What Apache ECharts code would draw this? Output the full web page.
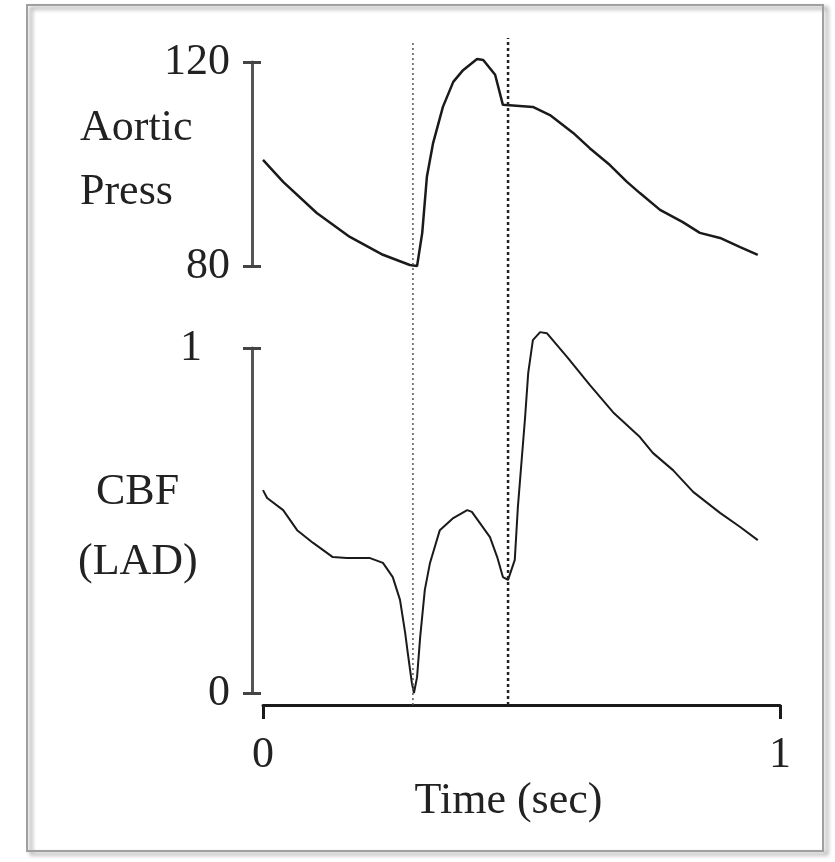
<!DOCTYPE html>
<html>
<head>
<meta charset="utf-8">
<script src="https://cdn.jsdelivr.net/npm/echarts@6/dist/echarts.min.js"></script>
<style>
  html, body { margin: 0; padding: 0; background: #fff; }
  #chart { width: 835px; height: 862px; }
</style>
</head>
<body>
<div id="chart"></div>
<script>
// time (sec) and aortic pressure
const timeAortic = [0, 0.039, 0.104, 0.168, 0.232, 0.284, 0.298, 0.308, 0.317, 0.329, 0.348, 0.368, 0.387, 0.414, 0.426, 0.449, 0.464, 0.522, 0.555, 0.600, 0.632, 0.671, 0.704, 0.729, 0.768, 0.812, 0.845, 0.884, 0.923, 0.957]
const aorticPress = [100.8, 96.5, 90.4, 85.7, 82.2, 80.2, 80, 86.5, 97.5, 104.1, 111.2, 116.1, 118.4, 120.6, 120.4, 117.5, 111.6, 111.2, 109.6, 106.1, 103.1, 99.8, 96.5, 94.3, 91.0, 88.6, 86.5, 85.5, 83.7, 82.2]

// time (sec) and coronary blood flow (LAD), bottom trace
const timeCBF = [0, 0.008, 0.039, 0.066, 0.097, 0.135, 0.162, 0.207, 0.232, 0.251, 0.265, 0.275, 0.280, 0.288, 0.292, 0.298, 0.304, 0.313, 0.323, 0.342, 0.368, 0.395, 0.404, 0.439, 0.453, 0.464, 0.474, 0.487, 0.493, 0.507, 0.513, 0.522, 0.536, 0.549, 0.588, 0.632, 0.677, 0.729, 0.754, 0.793, 0.832, 0.884, 0.923, 0.957]
const cbf = [0.588, 0.565, 0.530, 0.472, 0.435, 0.394, 0.391, 0.391, 0.377, 0.336, 0.270, 0.174, 0.116, 0.029, 0.0, 0.046, 0.162, 0.299, 0.377, 0.472, 0.507, 0.530, 0.525, 0.452, 0.394, 0.336, 0.328, 0.386, 0.539, 0.800, 0.928, 1.023, 1.046, 1.043, 0.974, 0.893, 0.814, 0.742, 0.696, 0.646, 0.583, 0.522, 0.481, 0.443]

// dotted event markers (sec)
const markerTimes = [0.29, 0.474]

const pressTicks = [80, 120]
const cbfTicks = [0, 1]
const timeTicks = [0, 1]

const font = 'Liberation Serif'
const ink = '#1a1a1a'
const textInk = '#222'

const chart = echarts.init(document.getElementById('chart'))

function pair (xs, ys) {
  return xs.map((x, i) => [x, ys[i]])
}

// outside = line + outward ticks + labels, otherwise just the inward half of the ticks
function leftAxis (gridIndex, ticks, outside) {
  return {
    gridIndex: gridIndex,
    type: 'value',
    position: 'left',
    min: ticks[0],
    max: ticks[1],
    interval: ticks[1] - ticks[0],
    offset: 11,
    splitLine: { show: false },
    axisLine: { show: outside, onZero: false, lineStyle: { color: '#555', width: 3 } },
    axisTick: { show: true, inside: !outside, length: 9, lineStyle: { color: '#444', width: 3 } },
    axisLabel: {
      show: outside,
      margin: 22,
      fontFamily: font,
      fontSize: 44,
      color: textInk,
      formatter: v => v === 1 ? '{one|1}' : String(v),
      rich: { one: { fontFamily: font, fontSize: 44, color: textInk, padding: [0, 28, 0, 0] } }
    }
  }
}

const option = {
  animation: false,
  backgroundColor: '#fff',
  grid: [
    { left: 263, right: 55, top: 62, height: 204 },
    { left: 263, right: 55, top: 348, height: 345 },
    { left: 263, right: 55, top: 38, height: 667 }
  ],
  xAxis: [
    { gridIndex: 0, type: 'value', min: 0, max: 1, show: false },
    {
      gridIndex: 1,
      type: 'value',
      position: 'bottom',
      min: timeTicks[0],
      max: timeTicks[1],
      interval: 1,
      offset: 12,
      splitLine: { show: false },
      axisLine: { onZero: false, lineStyle: { color: ink, width: 3 } },
      axisTick: { length: 14, lineStyle: { color: ink, width: 3 } },
      axisLabel: { margin: 28, fontFamily: font, fontSize: 44, color: textInk },
      name: 'Time (sec)',
      nameLocation: 'middle',
      nameGap: 74,
      nameTextStyle: { fontFamily: font, fontSize: 44, color: textInk, padding: [0, 26, 0, 0] }
    },
    { gridIndex: 2, type: 'value', min: 0, max: 1, show: false }
  ],
  yAxis: [
    leftAxis(0, pressTicks, true),
    leftAxis(1, cbfTicks, true),
    { gridIndex: 2, type: 'value', min: 0, max: 1, show: false },
    leftAxis(0, pressTicks, false),
    leftAxis(1, cbfTicks, false)
  ],
  series: [
    {
      name: 'Aortic Press',
      type: 'line',
      xAxisIndex: 0,
      yAxisIndex: 0,
      symbol: 'none',
      clip: false,
      lineStyle: { color: ink, width: 2.5 },
      data: pair(timeAortic, aorticPress)
    },
    {
      name: 'CBF (LAD)',
      type: 'line',
      xAxisIndex: 1,
      yAxisIndex: 1,
      symbol: 'none',
      clip: false,
      lineStyle: { color: ink, width: 2 },
      data: pair(timeCBF, cbf)
    },
    {
      type: 'line',
      xAxisIndex: 2,
      yAxisIndex: 2,
      symbol: 'none',
      lineStyle: { color: '#555', width: 1.5, type: [2, 3] },
      data: [[markerTimes[0], 0], [markerTimes[0], 0.996]]
    },
    {
      type: 'line',
      xAxisIndex: 2,
      yAxisIndex: 2,
      symbol: 'none',
      lineStyle: { color: '#222', width: 2.5, type: [3, 3] },
      data: [[markerTimes[1], 0], [markerTimes[1], 1]]
    }
  ],
  graphic: [
    {
      type: 'rect',
      shape: { x: 27, y: 5, width: 796, height: 846 },
      style: {
        fill: 'none',
        stroke: '#a0a0a0',
        lineWidth: 2,
        shadowBlur: 4,
        shadowOffsetX: 4,
        shadowOffsetY: 3,
        shadowColor: 'rgba(0,0,0,0.45)'
      },
      z: -1
    },
    { type: 'text', left: 80, top: 106, style: { text: 'Aortic', font: '44px "Liberation Serif"', fill: textInk } },
    { type: 'text', left: 80, top: 170, style: { text: 'Press', font: '44px "Liberation Serif"', fill: textInk } },
    { type: 'text', left: 96, top: 470, style: { text: 'CBF', font: '44px "Liberation Serif"', fill: textInk } },
    { type: 'text', left: 78, top: 540, style: { text: '(LAD)', font: '44px "Liberation Serif"', fill: textInk } }
  ]
}

chart.setOption(option)
</script>
</body>
</html>
